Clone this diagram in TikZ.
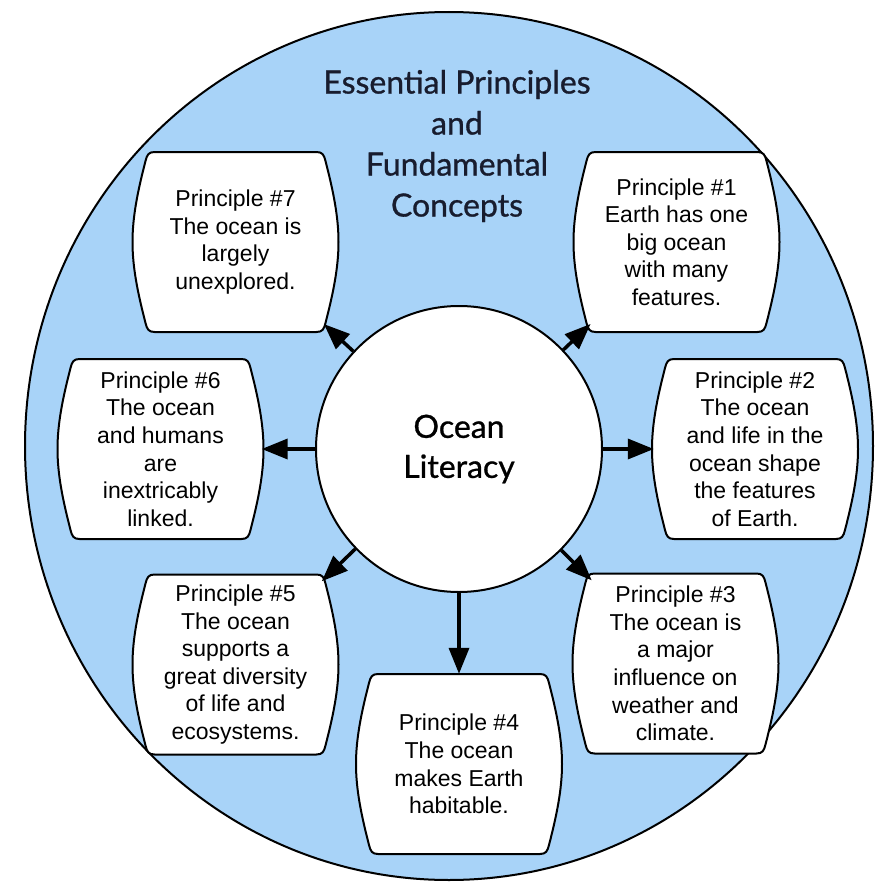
\documentclass[tikz,border=0pt]{standalone}
\usepackage{fontspec}
\setmainfont{Liberation Sans}
\newfontfamily\gillish{Lato}[RawFeature={embolden=0.9}]
\usetikzlibrary{arrows.meta}
\definecolor{oceanblue}{RGB}{168,211,248}
\definecolor{titlenavy}{RGB}{24,28,46}
\newcommand\pbox[4]{%
  \begin{scope}[shift={(#2,#3)}]
    \path[boxsty] (-81,-90) -- (81,-90)
      .. controls (87,-90) and (88.5,-87) .. (90,-81)
      .. controls (98,-50) and (103,-25) .. (103,0)
      .. controls (103,25) and (98,50) .. (90,81)
      .. controls (88.5,87) and (87,90) .. (81,90)
      -- (-81,90)
      .. controls (-87,90) and (-88.5,87) .. (-90,81)
      .. controls (-98,50) and (-103,25) .. (-103,0)
      .. controls (-103,-25) and (-98,-50) .. (-90,-81)
      .. controls (-88.5,-87) and (-87,-90) .. (-81,-90) -- cycle;
  \end{scope}
  \node[boxtext] (#1) at (#2,#3) {#4};%
}
\begin{document}
\begin{tikzpicture}[x=1pt,y=-1pt,
  boxsty/.style={fill=white,draw=black,line width=2pt},
  boxtext/.style={minimum width=206pt,minimum height=180pt,inner sep=0pt,
    align=center,font=\fontsize{23}{27.6}\selectfont},
  arr/.style={line width=3.5pt,-{Triangle[length=26pt,width=20pt]}},
]
\useasboundingbox (0,0) rectangle (895,891);
\path[fill=oceanblue,draw=black,line width=2pt] (449,446) ellipse [x radius=424pt, y radius=434pt];

\node[font=\gillish\fontsize{32}{41}\selectfont,text=titlenavy,align=center]
  (title) at (457,146) {Essential Principles\\and\\Fundamental\\Concepts};

\pbox{b7}{235.5}{242}{Principle \#7\\The ocean is\\largely\\unexplored.}
\pbox{b1}{676.5}{242}{Principle \#1\\Earth has one\\big ocean\\with many\\features.}
\pbox{b6}{160.5}{449}{Principle \#6\\The ocean\\and humans\\are\\inextricably\\linked.}
\pbox{b2}{755}{449}{Principle \#2\\The ocean\\and life in the\\ocean shape\\the features\\of Earth.}
\pbox{b5}{235.5}{664.5}{Principle \#5\\The ocean\\supports a\\great diversity\\of life and\\ecosystems.}
\pbox{b3}{675.5}{663.5}{Principle \#3\\The ocean is\\a major\\influence on\\weather and\\climate.}
\pbox{b4}{459}{764}{Principle \#4\\The ocean\\makes Earth\\habitable.}

\node[circle,draw=black,fill=white,line width=2pt,minimum size=286pt,inner sep=0pt,
  align=center,font=\gillish\fontsize{32}{40}\selectfont] (lit) at (459,449) {Ocean\\Literacy};

\draw[arr,shorten >=-12pt] (lit) -- (b7);
\draw[arr,shorten >=-12pt] (lit) -- (b1);
\draw[arr,shorten >=-2pt] (lit) -- (b6);
\draw[arr,shorten >=-2pt] (lit) -- (b2);
\draw[arr,shorten >=-10pt] (lit) -- (b5);
\draw[arr,shorten >=-10pt] (lit) -- (b3);
\draw[arr] (lit) -- (b4);
\end{tikzpicture}
\end{document}
